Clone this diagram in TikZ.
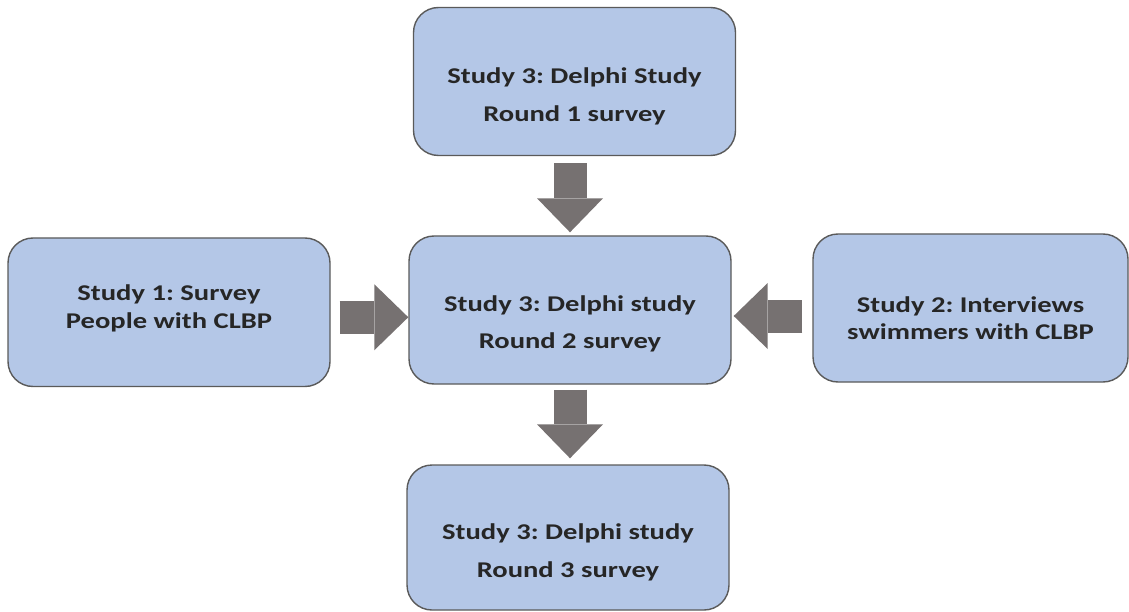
\documentclass[tikz,border=0pt]{standalone}
\usepackage{fontspec}
\setmainfont[FakeStretch=1.27]{Carlito}
\usetikzlibrary{arrows.meta,calc}
\definecolor{boxfill}{HTML}{B4C7E7}
\definecolor{boxline}{HTML}{5A5A5A}
\definecolor{arrowgray}{HTML}{767171}
\definecolor{textgray}{HTML}{262626}
\frenchspacing
\begin{document}
\begin{tikzpicture}[x=1pt,y=1pt,
  studybox/.style={draw=boxline,line width=1.4pt,fill=boxfill,rounded corners=25pt,
    minimum width=322pt,minimum height=148pt,inner sep=0pt},
  studytext/.style={text=textgray,font=\fontsize{22.5}{27.5}\selectfont\bfseries,align=center,inner sep=0pt},
  blockarrow/.style={draw=arrowgray,line width=33pt,
    -{Triangle[length=34pt,width=66pt,line width=0pt]}}]
\useasboundingbox (0,0) rectangle (1129,-612);

% boxes
\node[studybox] (t) at (574.5,-81.5) {};
\node[studybox] (m) at (570,-310) {};
\node[studybox,minimum height=145pt] (b) at (568,-537.5) {};
\node[studybox,minimum height=148.5pt] (l) at (169,-312.25) {};
\node[studybox,minimum width=315pt] (r) at (970.5,-308) {};

% texts
\node[studytext] (tt) at ([yshift=-15pt]t.center) {Study 3: Delphi Study\\[10pt]Round 1 survey};
\node[studytext] (mt) at ([yshift=-14pt]m.center) {Study 3: Delphi study\\[10pt]Round 2 survey};
\node[studytext] (bt) at ([yshift=-15pt]b.center) {Study 3: Delphi study\\[10pt]Round 3 survey};
\node[studytext] (lt) at ([yshift=4pt]l.center) {Study 1: Survey\\People with CLBP};
\node[studytext] (rt) at ([yshift=-10pt]r.center) {Study 2: Interviews\\swimmers with CLBP};

% block arrows
\draw[blockarrow,shorten <=7pt,shorten >=3pt] (t.south -| m.center) -- (m.north);
\draw[blockarrow,shorten <=5pt,shorten >=6pt] (m.south) -- (b.north -| m.south);
\draw[blockarrow,shorten <=9pt,shorten >=0pt] ([yshift=-5pt]l.east) -- ([yshift=-5pt]l.east -| m.west);
\draw[blockarrow,shorten <=10pt,shorten >=2pt] ([yshift=-8pt]r.west) -- ([yshift=-8pt]r.west -| m.east);
\end{tikzpicture}
\end{document}
